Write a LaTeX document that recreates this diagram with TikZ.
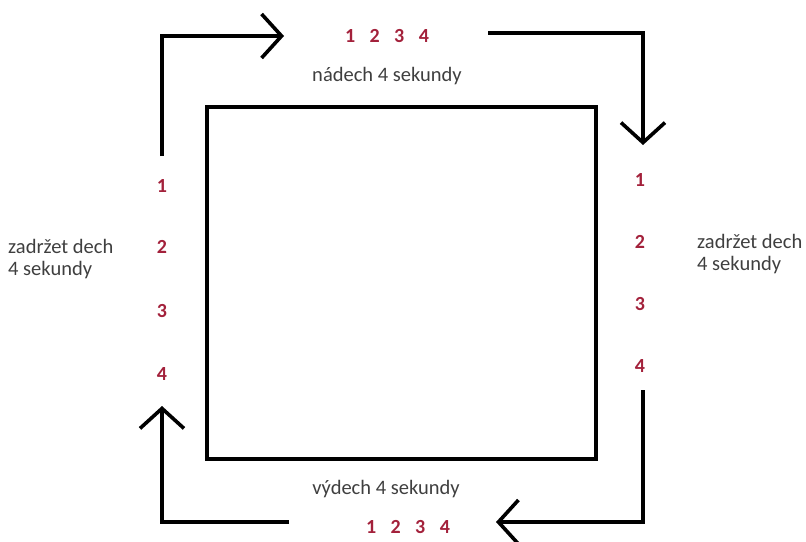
\documentclass[tikz,border=0pt]{standalone}
\usepackage{fontspec}
\setmainfont{Carlito}
\usetikzlibrary{arrows.meta}
\definecolor{numred}{HTML}{A3213B}
\definecolor{labgray}{HTML}{3F3F3F}
\tikzset{
  thick line/.style={line width=3.6pt, black, line join=miter},
  flow/.style={thick line, -{Straight Barb[length=20pt,width=44pt,line width=3.6pt]}},
  num/.style={text=numred, font=\fontsize{20}{24}\selectfont\bfseries, inner sep=0pt},
  lab/.style={text=labgray, font=\fontsize{20.5}{22}\selectfont, inner sep=0pt},
}
\begin{document}
\begin{tikzpicture}[x=1pt,y=-1pt]
\useasboundingbox (0,0) rectangle (806,541);
% central square
\draw[thick line] (207,107) rectangle (596,459);
% corner coordinates
\coordinate (tl0) at (162,156);
\coordinate (tl1) at (162,36);
\coordinate (tl2) at (284,36);
\coordinate (tr0) at (488,33);
\coordinate (tr1) at (643,33);
\coordinate (tr2) at (643,145);
\coordinate (br0) at (643,390);
\coordinate (br1) at (643,522);
\coordinate (br2) at (496,522);
\coordinate (bl0) at (289,522);
\coordinate (bl1) at (162,522);
\coordinate (bl2) at (162,406);
\draw[flow] (tl0) -- (tl1) -- (tl2);
\draw[flow] (tr0) -- (tr1) -- (tr2);
\draw[flow] (br0) -- (br1) -- (br2);
\draw[flow] (bl0) -- (bl1) -- (bl2);
% top
\node[num] (tn) at (387,36) {1\hspace{0.72em}2\hspace{0.72em}3\hspace{0.72em}4};
\node[lab] (tl) at (387,76) {nádech 4 sekundy};
% bottom
\node[lab] (bl) at (386,489) {výdech 4 sekundy};
\node[num] (bn) at (408,527) {1\hspace{0.72em}2\hspace{0.72em}3\hspace{0.72em}4};
% left numbers
\node[num] (l1) at (162,186) {1};
\node[num] (l2) at (162,247) {2};
\node[num] (l3) at (162,311) {3};
\node[num] (l4) at (162,374) {4};
% right numbers
\node[num] (r1) at (640,180) {1};
\node[num] (r2) at (640,242) {2};
\node[num] (r3) at (640,304) {3};
\node[num] (r4) at (640,366) {4};
% side labels
\node[lab, anchor=west, align=left] (ll) at (8,259) {zadržet dech\\4 sekundy};
\node[lab, anchor=west, align=left] (rl) at (697,254) {zadržet dech\\4 sekundy};
\end{tikzpicture}
\end{document}
